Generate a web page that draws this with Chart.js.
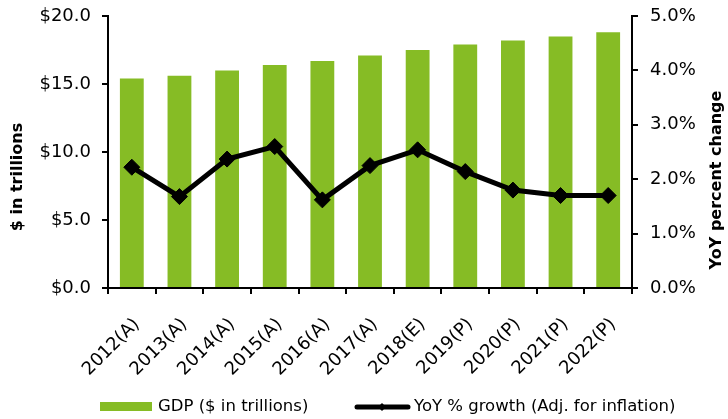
<!DOCTYPE html>
<html>
<head>
<meta charset="utf-8">
<script src="https://cdn.jsdelivr.net/npm/chart.js@4/dist/chart.umd.min.js"></script>
<style>
  html, body { margin: 0; padding: 0; background: #fff; }
  #wrap { width: 728px; height: 419px; }
</style>
</head>
<body>
<div id="wrap"><canvas id="gdpChart" width="728" height="419"></canvas></div>
<script>
// Data
const years = ["2012(A)", "2013(A)", "2014(A)", "2015(A)", "2016(A)", "2017(A)", "2018(E)", "2019(P)", "2020(P)", "2021(P)", "2022(P)"];
const gdpTrillions = [15.4, 15.6, 16.0, 16.4, 16.7, 17.1, 17.5, 17.9, 18.2, 18.5, 18.8];
const yoyGrowth = [2.22, 1.68, 2.37, 2.6, 1.62, 2.25, 2.54, 2.14, 1.8, 1.7, 1.7];

const leftTitle = "$ in trillions";
const rightTitle = "YoY percent change";

const FONT = "Verdana, 'DejaVu Sans', sans-serif";
const GREEN = "#86bc25";

// axis titles (both read bottom-to-top) and the legend at the bottom
const extrasPlugin = {
  id: "extras",
  afterDraw(chart) {
    const c = chart.ctx;
    c.save();
    c.fillStyle = "#000";
    c.font = "bold 16px " + FONT;
    c.textAlign = "center";
    c.textBaseline = "middle";
    [[17.5, 177, leftTitle], [717, 180, rightTitle]].forEach(([x, y, t]) => {
      c.save();
      c.translate(x, y);
      c.rotate(-Math.PI / 2);
      c.fillText(t, 0, 0);
      c.restore();
    });

    // legend
    const ds = chart.data.datasets;
    c.font = "16.5px " + FONT;
    c.textAlign = "left";
    c.fillStyle = GREEN;
    c.fillRect(100, 402, 52, 9);
    c.fillStyle = "#000";
    c.fillText(ds[1].label, 158, 407);

    c.strokeStyle = "#000";
    c.lineWidth = 5;
    c.lineCap = "round";
    c.beginPath();
    c.moveTo(357, 407);
    c.lineTo(408, 407);
    c.stroke();
    c.beginPath();
    c.moveTo(382, 403); c.lineTo(386, 407); c.lineTo(382, 411); c.lineTo(378, 407);
    c.closePath();
    c.fill();
    c.fillText(ds[0].label, 414, 407);
    c.restore();
  }
};

// fixed box sizes so the plot area lands where the reference has it
function fixBox(w, h) {
  return s => {
    if (w) s.width = w;
    if (h) s.height = h;
    s.paddingTop = 0;
    s.paddingBottom = 0;
    s.paddingLeft = 0;
    s.paddingRight = 0;
  };
}

const ctx = document.getElementById("gdpChart").getContext("2d");
new Chart(ctx, {
  data: {
    labels: years,
    datasets: [
      {
        type: "line",
        label: "YoY % growth (Adj. for inflation)",
        data: yoyGrowth,
        yAxisID: "yRight",
        borderColor: "#000",
        backgroundColor: "#000",
        borderWidth: 5,
        pointStyle: "rectRot",
        pointRadius: 8,
        pointHoverRadius: 8,
        pointBorderWidth: 1,
        tension: 0,
        order: 0
      },
      {
        type: "bar",
        label: "GDP ($ in trillions)",
        data: gdpTrillions,
        yAxisID: "yLeft",
        backgroundColor: GREEN,
        borderWidth: 0,
        barPercentage: 0.5,
        categoryPercentage: 1.0,
        order: 1
      }
    ]
  },
  options: {
    responsive: false,
    animation: false,
    layout: { padding: { left: 0, right: 0, top: 16, bottom: 0 } },
    plugins: {
      tooltip: { enabled: false },
      legend: { display: false }
    },
    scales: {
      x: {
        afterFit: fixBox(0, 131),
        ticks: {
          font: { family: FONT, size: 18 },
          color: "#000",
          maxRotation: 45,
          minRotation: 45,
          autoSkip: false,
          labelOffset: 5,
          padding: 20
        },
        grid: { display: true, drawOnChartArea: false, drawTicks: true, tickLength: 6, color: "#000", lineWidth: 2 },
        border: { color: "#000", width: 2 }
      },
      yLeft: {
        position: "left",
        min: 0,
        max: 20,
        afterFit: fixBox(108, 0),
        ticks: {
          stepSize: 5,
          font: { family: FONT, size: 18 },
          color: "#000",
          padding: 11,
          callback: v => "$" + v.toFixed(1)
        },
        grid: { display: true, drawOnChartArea: false, drawTicks: true, tickLength: 6, color: "#000", lineWidth: 2 },
        border: { color: "#000", width: 2 }
      },
      yRight: {
        position: "right",
        min: 0,
        max: 5,
        afterFit: fixBox(96, 0),
        ticks: {
          stepSize: 1,
          font: { family: FONT, size: 18 },
          color: "#000",
          padding: 12,
          callback: v => v.toFixed(1) + "%"
        },
        grid: { display: true, drawOnChartArea: false, drawTicks: true, tickLength: 6, color: "#000", lineWidth: 2 },
        border: { color: "#000", width: 2 }
      }
    }
  },
  plugins: [extrasPlugin]
});
</script>
</body>
</html>
